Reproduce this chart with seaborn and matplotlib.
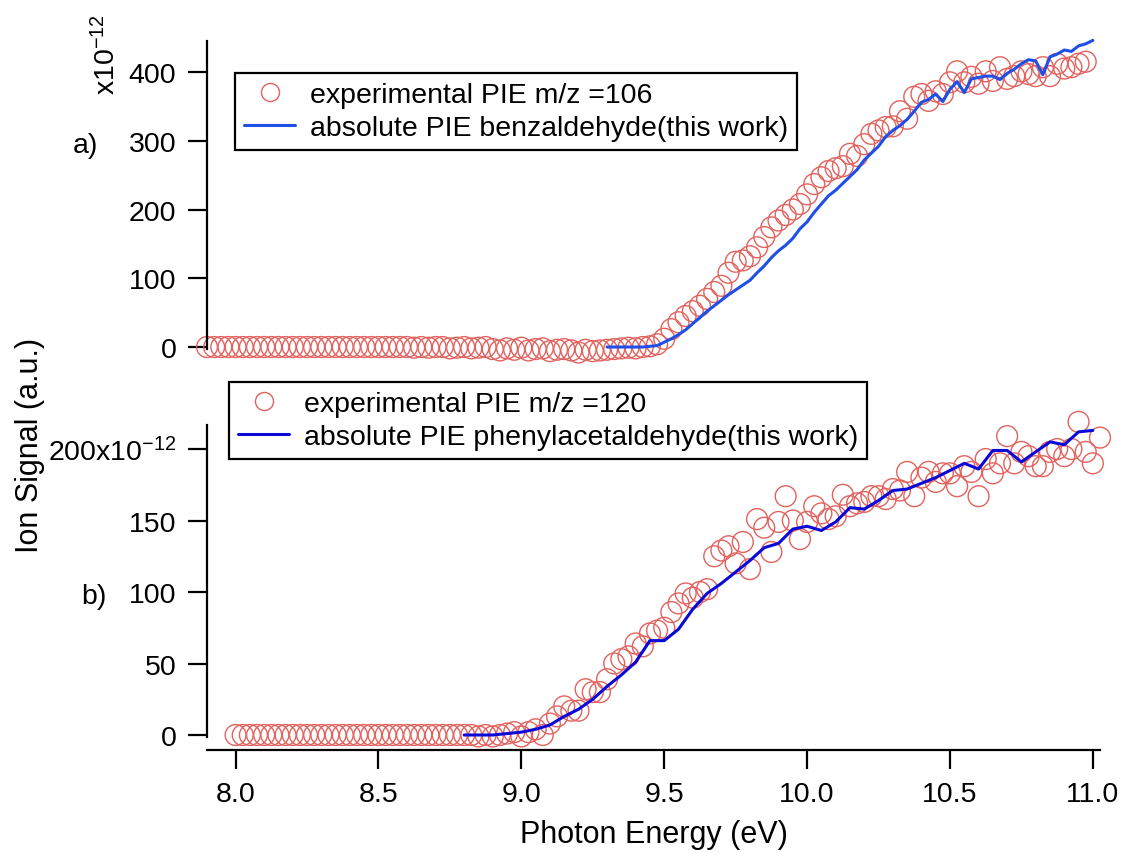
import matplotlib
matplotlib.use("Agg")
import matplotlib.pyplot as plt
from matplotlib.lines import Line2D
import seaborn as sns
import pandas as pd

# ---------------- data (values in units of 1e-12) ----------------
energy_a_exp = [
    7.9, 7.925, 7.95, 7.975, 8.0, 8.025, 8.05, 8.075, 8.1, 8.125,
    8.15, 8.175, 8.2, 8.225, 8.25, 8.275, 8.3, 8.325, 8.35, 8.375,
    8.4, 8.425, 8.45, 8.475, 8.5, 8.525, 8.55, 8.575, 8.6, 8.625,
    8.65, 8.675, 8.7, 8.725, 8.75, 8.775, 8.8, 8.825, 8.85, 8.875,
    8.9, 8.925, 8.95, 8.975, 9.0, 9.025, 9.05, 9.075, 9.1, 9.125,
    9.15, 9.175, 9.2, 9.225, 9.25, 9.275,
    9.3, 9.325, 9.35, 9.375, 9.4, 9.425, 9.45, 9.475,
    9.5, 9.525, 9.55, 9.575, 9.6, 9.625, 9.65, 9.675, 9.7, 9.725,
    9.75, 9.775, 9.8, 9.825, 9.85, 9.875, 9.9, 9.925,
    9.95, 9.975, 10.0, 10.025, 10.05, 10.075, 10.1, 10.125, 10.15, 10.175,
    10.2, 10.225, 10.25, 10.275, 10.3, 10.325, 10.35, 10.375, 10.4, 10.425,
    10.45, 10.475, 10.5, 10.525, 10.55, 10.575, 10.6, 10.625, 10.65, 10.675,
    10.7, 10.725, 10.75, 10.775, 10.8, 10.825, 10.85, 10.875, 10.9, 10.925,
    10.95, 10.975]
signal_a_exp = [
    0, 0, 0, 0, 0, 0, 0, 0, 0, 0,
    0, 0, 0, 0, 0, 0, 0, 0, 0, 0,
    0, 0, 0, 0, 0, 0, 0, 0, 0, -1,
    0, -1, 0, 0, -2, -1, 0, -2, -1, 0,
    -3, -5, -2, -4, -1, -5, -3, -2, -6, -4,
    -3, -5, -8, -4, -6, -5,
    -4, -3, -2, -1, -2, 0, 1, 4,
    12, 26, 36, 45, 52, 60, 70, 80, 89, 108,
    124, 126, 132, 145, 160, 174, 184, 192,
    200, 208, 222, 237, 247, 256, 260, 263, 281, 278,
    295, 310, 315, 320, 321, 343, 332, 364, 368, 358,
    372, 368, 385, 401, 385, 393, 383, 401, 387, 407,
    390, 394, 401, 397, 394, 407, 394, 412, 405, 407,
    412, 415]

energy_a_abs = [
    9.3, 9.325, 9.35, 9.375, 9.4, 9.425, 9.45, 9.475, 9.5, 9.525,
    9.55, 9.575, 9.6, 9.625, 9.65, 9.675, 9.7, 9.725, 9.75, 9.775,
    9.8, 9.825, 9.85, 9.875, 9.9, 9.925, 9.95, 9.975, 10.0, 10.025,
    10.05, 10.075, 10.1, 10.125, 10.15, 10.175, 10.2, 10.225, 10.25, 10.275,
    10.3, 10.325, 10.35, 10.375, 10.4, 10.425, 10.45, 10.475, 10.5, 10.525,
    10.55, 10.575, 10.6, 10.625, 10.65, 10.675, 10.7, 10.725, 10.75, 10.775,
    10.8, 10.825, 10.85, 10.875, 10.9, 10.925, 10.95, 10.975, 11.0]
signal_a_abs = [
    0, 0, 0, 0, 0, 0, 1, 2, 7, 12,
    18, 25, 34, 43, 52, 60, 68, 76, 83, 90,
    97, 108, 118, 130, 140, 148, 158, 172, 182, 196,
    208, 220, 228, 238, 248, 258, 272, 282, 292, 306,
    315, 322, 331, 343, 356, 360, 368, 357, 375, 386,
    370, 390, 392, 394, 394, 389, 398, 404, 412, 418,
    416, 396, 422, 426, 432, 430, 438, 441, 446]

energy_b_exp = [
    8.0, 8.025, 8.05, 8.075, 8.1, 8.125, 8.15, 8.175, 8.2, 8.225,
    8.25, 8.275, 8.3, 8.325, 8.35, 8.375, 8.4, 8.425, 8.45, 8.475,
    8.5, 8.525, 8.55, 8.575, 8.6, 8.625, 8.65, 8.675, 8.7, 8.725,
    8.75, 8.775, 8.8, 8.825, 8.85, 8.875, 8.9, 8.925, 8.95,
    8.975, 9.0, 9.025, 9.05, 9.075, 9.1, 9.125, 9.15, 9.175, 9.2,
    9.225, 9.25, 9.275, 9.3, 9.325, 9.35, 9.375, 9.4, 9.425, 9.45,
    9.475, 9.5, 9.525, 9.55, 9.575, 9.6, 9.625, 9.65, 9.675, 9.7,
    9.725, 9.75, 9.775, 9.8, 9.825, 9.85, 9.875, 9.9, 9.925, 9.95,
    9.975, 10.0, 10.025, 10.05, 10.075, 10.1, 10.125, 10.15, 10.175, 10.2,
    10.225, 10.25, 10.275, 10.3, 10.325, 10.35, 10.375, 10.4, 10.425, 10.45,
    10.475, 10.5, 10.525, 10.55, 10.575, 10.6, 10.625, 10.65, 10.675, 10.7,
    10.725, 10.75, 10.775, 10.8, 10.825, 10.85, 10.875, 10.9, 10.925, 10.95,
    10.975, 11.0, 11.025]
signal_b_exp = [
    0, 0, 0, 0, 0, 0, 0, 0, 0, 0,
    0, 0, 0, 0, 0, 0, 0, 0, 0, 0,
    0, 0, 0, 0, 0, 0, 0, 0, 0, 0,
    0, 0, 0, 0, -1, 0, -1, 0, 1,
    2, -1, 2, 4, 0, 8, 13, 20, 17, 17,
    32, 30, 30, 39, 50, 53, 55, 64, 62, 71,
    73, 75, 86, 92, 99, 96, 100, 102, 125, 129,
    132, 120, 135, 116, 151, 145, 128, 149, 167, 150,
    137, 149, 160, 155, 151, 153, 168, 160, 162, 163,
    167, 167, 165, 172, 171, 184, 167, 180, 184, 177,
    183, 183, 174, 188, 184, 167, 193, 183, 190, 209,
    190, 198, 195, 188, 188, 198, 200, 195, 200, 219,
    198, 190, 208]

energy_b_abs = [
    8.8, 8.85, 8.9, 8.95, 9.0, 9.05, 9.1, 9.15, 9.2, 9.25,
    9.3, 9.35, 9.4, 9.45, 9.5, 9.55, 9.6, 9.65, 9.7, 9.75,
    9.8, 9.85, 9.9, 9.95, 10.0, 10.05, 10.1, 10.15, 10.2, 10.25,
    10.3, 10.35, 10.4, 10.45, 10.5, 10.55, 10.6, 10.65, 10.7, 10.75,
    10.8, 10.85, 10.9, 10.95, 11.0]
signal_b_abs = [
    0, 0, 0, 1, 2, 4, 7, 13, 18, 25,
    34, 42, 51, 66, 66, 74, 88, 99, 106, 114,
    122, 131, 134, 144, 146, 143, 149, 159, 158, 164,
    171, 172, 176, 180, 185, 190, 186, 199, 199, 191,
    198, 205, 203, 212, 213]

x_ticks = [8.0, 8.5, 9.0, 9.5, 10.0, 10.5, 11.0]
x_tick_labels = ["8.0", "8.5", "9.0", "9.5", "10.0", "10.5", "11.0"]
a_ticks = [0, 100, 200, 300, 400]
a_tick_labels = ["0", "100", "200", "300", "400"]
b_ticks = [0, 50, 100, 150, 200]
b_tick_labels = ["0", "50", "100", "150", "200x10$^{-12}$"]

label_a_exp = "experimental PIE m/z =106"
label_a_abs = "absolute PIE benzaldehyde(this work)"
label_b_exp = "experimental PIE m/z =120"
label_b_abs = "absolute PIE phenylacetaldehyde(this work)"

# ---------------- style ----------------
sns.set_style("ticks")
plt.rcParams["font.family"] = ["Liberation Sans", "DejaVu Sans"]
plt.rcParams["mathtext.default"] = "regular"
plt.rcParams["axes.linewidth"] = 1.6
plt.rcParams["text.color"] = "black"
plt.rcParams["axes.labelcolor"] = "black"
plt.rcParams["axes.edgecolor"] = "black"

RED = "#e2625e"
BLUE_A = "#1f4fe6"
BLUE_B = "#0a0ad8"
FS = 20.5

W, H = 1123, 854
fig = plt.figure(figsize=(W / 100, H / 100), dpi=100)

def fx(px):
    return px / W

def fy(py):
    return 1 - py / H

left, right = 207, 1100
ax_a = fig.add_axes([fx(left), fy(350), fx(right - left), (350 - 42) / H])
ax_b = fig.add_axes([fx(left), fy(737.5), fx(right - left), (737.5 - 426) / H])

df_a_exp = pd.DataFrame({"E": energy_a_exp, "S": signal_a_exp})
df_a_abs = pd.DataFrame({"E": energy_a_abs, "S": signal_a_abs})
df_b_exp = pd.DataFrame({"E": energy_b_exp, "S": signal_b_exp})
df_b_abs = pd.DataFrame({"E": energy_b_abs, "S": signal_b_abs})

for ax, dexp, dabs, blue in [(ax_a, df_a_exp, df_a_abs, BLUE_A),
                             (ax_b, df_b_exp, df_b_abs, BLUE_B)]:
    sns.scatterplot(data=dexp, x="E", y="S", ax=ax, marker="o", s=225,
                    facecolor="none", edgecolor=RED, linewidth=1.0,
                    clip_on=False, zorder=2, legend=False)
    sns.lineplot(data=dabs, x="E", y="S", ax=ax, color=blue, linewidth=2.2,
                 clip_on=False, zorder=3, legend=False)
    ax.set_xlim(7.9, 11.025)
    ax.set_xlabel("")
    ax.set_ylabel("")
    ax.spines["top"].set_visible(False)
    ax.spines["right"].set_visible(False)
    ax.tick_params(axis="y", direction="out", length=14, width=1.6,
                   pad=8, labelsize=FS, colors="black")
    ax.patch.set_alpha(0)

# panel a
ax_a.set_ylim(-2.9, 445.1)
ax_a.set_yticks(a_ticks)
ax_a.set_yticklabels(a_tick_labels)
ax_a.spines["bottom"].set_visible(False)
ax_a.tick_params(axis="x", bottom=False, labelbottom=False)

# panel b
ax_b.set_ylim(-1.05, 216.8)
ax_b.set_yticks(b_ticks)
ax_b.set_yticklabels(b_tick_labels)
ax_b.spines["bottom"].set_position(("outward", 10))
ax_b.set_xticks(x_ticks)
ax_b.set_xticklabels(x_tick_labels)
ax_b.tick_params(axis="x", direction="out", length=14, width=1.6,
                 pad=8, labelsize=FS, colors="black")
ax_b.set_xlabel("Photon Energy (eV)", fontsize=22, labelpad=9, color="black")

# texts
fig.text(fx(107), fy(55), "x10$^{-12}$", rotation=90, fontsize=FS,
         ha="center", va="center", color="black")
fig.text(fx(85), fy(146), "a)", fontsize=FS, ha="center", va="center",
         color="black")
fig.text(fx(94), fy(597), "b)", fontsize=FS, ha="center", va="center",
         color="black")
fig.text(fx(30), fy(445), "Ion Signal (a.u.)", rotation=90, fontsize=22,
         ha="center", va="center", color="black")

# legends
def make_handles(blue):
    h1 = Line2D([], [], linestyle="none", marker="o", markersize=13,
                markerfacecolor="none", markeredgecolor=RED, markeredgewidth=1.0)
    h2 = Line2D([], [], color=blue, linewidth=2.2)
    return [h1, h2]

leg_kw = dict(loc="upper left", bbox_transform=fig.transFigure, fontsize=20.5,
              frameon=True, fancybox=False, framealpha=1, edgecolor="black",
              borderaxespad=0, handlelength=1.8, handletextpad=0.5,
              labelspacing=0.25, borderpad=0.32, labelcolor="black")
leg_a = ax_a.legend(make_handles(BLUE_A), [label_a_exp, label_a_abs],
                    bbox_to_anchor=(fx(235), fy(74)), **leg_kw)
leg_a.get_frame().set_linewidth(1.6)
leg_b = ax_b.legend(make_handles(BLUE_B), [label_b_exp, label_b_abs],
                    bbox_to_anchor=(fx(229), fy(383)), **leg_kw)
leg_b.get_frame().set_linewidth(1.6)
leg_b.set_zorder(10)

fig.savefig("out.png", dpi=100)
